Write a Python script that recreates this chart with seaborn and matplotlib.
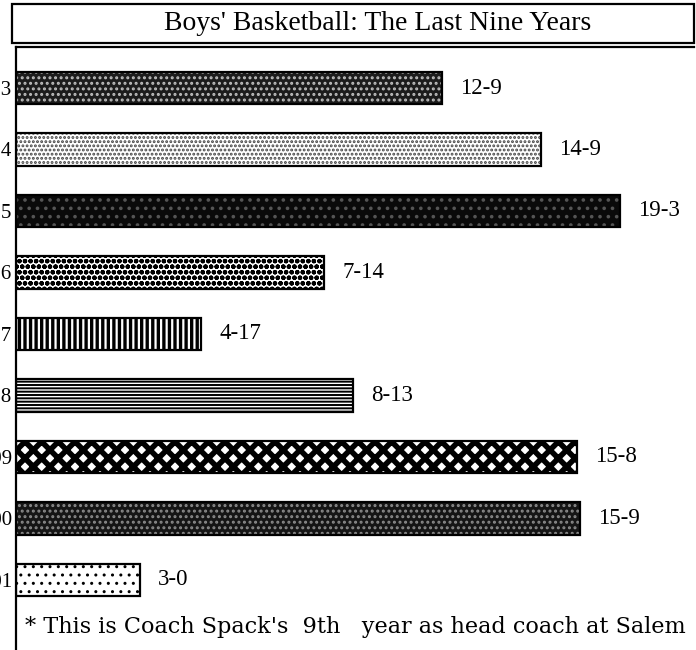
import matplotlib
matplotlib.use("Agg")
import matplotlib.pyplot as plt
from matplotlib.patches import Rectangle
import seaborn as sns
import pandas as pd

# ---- data ----
seasons = ["1992-93", "1993-94", "1994-95", "1995-96", "1996-97",
           "1997-98", "1998-99", "1999-00", "2000-01"]
records = ["12-9", "14-9", "19-3", "7-14", "4-17", "8-13", "15-8", "15-9", "3-0"]
bar_length = [426, 525, 604, 308, 185, 337, 561, 564, 124]  # drawn bar length (chart units)

title = "Boys' Basketball: The Last Nine Years"
footnote = "* This is Coach Spack's  9th   year as head coach at Salem"

# ---- styles (fill colour, hatch, hatch colour, hatch width) ----
styles = [
    ("#1c1c1c", "...", "#bdbdbd", 1.4),
    ("white", "....", "#444444", 1.4),
    ("#0a0a0a", "..", "#555555", 1.4),
    ("white", "ooo", "black", 1.6),
    ("white", "|||", "black", 2.4),
    ("white", "-----", "black", 1.4),
    ("white", "xx", "black", 4.0),
    ("#151515", "...", "#8a8a8a", 1.4),
    ("white", "..", "black", 1.0),
]

sns.set_theme(style="white")
plt.rcParams["font.family"] = ["Liberation Serif", "DejaVu Serif"]
for key in ["text.color", "axes.labelcolor", "xtick.color", "ytick.color"]:
    plt.rcParams[key] = "black"

W, H = 696, 650
fig = plt.figure(figsize=(W / 100, H / 100), dpi=100)
fig.patch.set_facecolor("white")

ax_left, ax_right, ax_top = 16, 694, 47
ax = fig.add_axes([ax_left / W, 0, (ax_right - ax_left) / W, 1 - ax_top / H])

df = pd.DataFrame({"season": seasons, "length": bar_length, "record": records})
sns.barplot(data=df, x="length", y="season", orient="h", ax=ax,
            color="white", width=0.53, linewidth=0, saturation=1)

bars = list(ax.patches)
for p, (fc, hatch, hc, hlw) in zip(bars, styles):
    p.set_facecolor(fc)
    p.set_hatch(hatch)
    p.set_edgecolor(hc)
    p.set_linewidth(0)
    if hasattr(p, "set_hatch_linewidth"):
        p.set_hatch_linewidth(hlw)
    else:
        p._hatch_linewidth = hlw
    ax.add_patch(Rectangle(p.get_xy(), p.get_width(), p.get_height(),
                           fill=False, edgecolor="black", linewidth=1.6, zorder=3))

ax.bar_label(ax.containers[0], labels=records, padding=13, fontsize=16.5,
             color="black")

ax.set_xlim(0, ax_right - ax_left)
ax.set_ylim(9.14, -0.667)
ax.set_xlabel("")
ax.set_ylabel("")
ax.set_xticks([])
ax.tick_params(axis="y", length=0, pad=3, labelsize=15, labelcolor="black")
for side in ["right", "bottom"]:
    ax.spines[side].set_visible(False)
for side in ["left", "top"]:
    ax.spines[side].set_visible(True)
    ax.spines[side].set_color("black")
    ax.spines[side].set_linewidth(1.6)

# title box with double bottom line
fig.patches.append(Rectangle((12 / W, 1 - 43 / H), (694 - 12) / W, 39 / H,
                             transform=fig.transFigure, fill=False,
                             edgecolor="black", linewidth=1.6))
fig.text(378 / W, 1 - 23 / H, title, ha="center", va="center", fontsize=20,
         color="black")

fig.text(25 / W, 1 - 627 / H, footnote, ha="left", va="center", fontsize=16.1,
         color="black", family=["DejaVu Serif"])

fig.savefig("out.png", dpi=100)
